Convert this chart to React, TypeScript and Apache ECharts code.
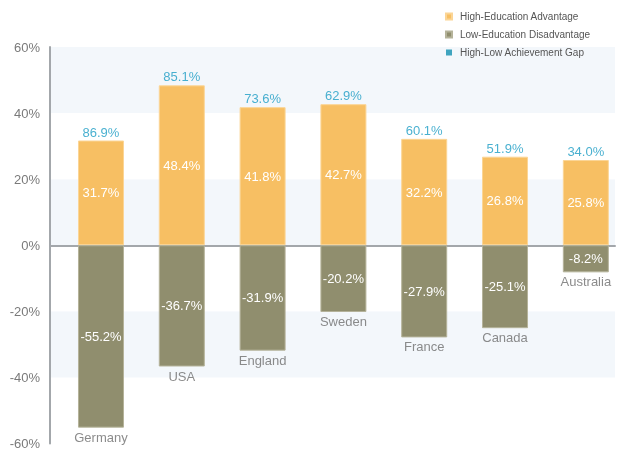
import React, { useEffect, useRef } from "react";
import * as echarts from "echarts";

const countries = ["Germany", "USA", "England", "Sweden", "France", "Canada", "Australia"];
const highAdvantage = [31.7, 48.4, 41.8, 42.7, 32.2, 26.8, 25.8];
const lowDisadvantage = [-55.2, -36.7, -31.9, -20.2, -27.9, -25.1, -8.2];
const achievementGap = [86.9, 85.1, 73.6, 62.9, 60.1, 51.9, 34.0];
const yTicks = [-60, -40, -20, 0, 20, 40, 60];

const FONT = "Liberation Sans, Arial, sans-serif";
const ORANGE = "#f7bf63";
const OLIVE = "#908e6e";
const TEAL = "#1b9cc4";
const TEAL_LEGEND = "#128fb0";

export default function App() {
  const ref = useRef<HTMLDivElement>(null);
  useEffect(() => {
    if (!ref.current) return;
    const chart = echarts.init(ref.current, undefined, { renderer: "svg" });
    chart.setOption({
      animation: false,
      textStyle: { fontFamily: FONT },
      legend: {
        orient: "vertical",
        left: 445,
        top: 10,
        padding: 0,
        itemWidth: 6,
        itemHeight: 6,
        itemGap: 5,
        icon: "rect",
        textStyle: { fontFamily: FONT, fontSize: 10, lineHeight: 13, color: "#555", padding: [0, 0, 0, 3] },
        data: ["High-Education Advantage", "Low-Education Disadvantage", "High-Low Achievement Gap"],
      },
      grid: { left: 50, right: 6, top: 47, bottom: 3, containLabel: false },
      xAxis: {
        type: "value",
        min: -0.631,
        max: 6.361,
        axisLine: { show: true, onZero: true, lineStyle: { color: "#a3a7ab", width: 2 } },
        axisTick: { show: false },
        axisLabel: { show: false },
        splitLine: { show: false },
      },
      yAxis: {
        type: "value",
        min: yTicks[0],
        max: yTicks[yTicks.length - 1],
        interval: 20,
        axisLine: { show: true, onZero: false, lineStyle: { color: "#a3a7ab", width: 2 } },
        axisTick: { show: false },
        splitLine: { show: false },
        splitArea: { show: true, areaStyle: { color: ["#ffffff", "#f3f7fb"] } },
        axisLabel: {
          formatter: (v: number) => `${v}%`,
          color: "#7a7a7a",
          fontSize: 13,
          fontFamily: FONT,
          margin: 10,
        },
      },
      series: [
        {
          name: "High-Education Advantage",
          type: "bar",
          stack: "s",
          barWidth: 46,
          data: highAdvantage.map((v, i) => [i, v]),
          itemStyle: { color: ORANGE, borderColor: "#fbd596", borderWidth: 1 },
          label: {
            show: true,
            position: "inside",
            color: "#ffffff",
            fontSize: 13,
            fontFamily: FONT,
            formatter: (p: any) => `${highAdvantage[p.dataIndex].toFixed(1)}%`,
          },
        },
        {
          name: "Low-Education Disadvantage",
          type: "bar",
          stack: "s",
          barWidth: 46,
          data: lowDisadvantage.map((v, i) => [i, v]),
          itemStyle: { color: OLIVE, borderColor: "#b5b39a", borderWidth: 1 },
          label: {
            show: true,
            position: "inside",
            color: "#ffffff",
            fontSize: 13,
            fontFamily: FONT,
            formatter: (p: any) => `${lowDisadvantage[p.dataIndex].toFixed(1)}%`,
          },
        },
        {
          name: "High-Low Achievement Gap",
          type: "scatter",
          symbolSize: 0,
          clip: false,
          data: highAdvantage.map((v, i) => [i, v]),
          itemStyle: { color: TEAL_LEGEND },
          label: {
            show: true,
            position: "top",
            distance: 2,
            color: TEAL,
            fontSize: 13,
            fontFamily: FONT,
            formatter: (p: any) => `${achievementGap[p.dataIndex].toFixed(1)}%`,
          },
          z: 5,
        },
        {
          name: "countries",
          type: "scatter",
          symbolSize: 0,
          clip: false,
          data: lowDisadvantage.map((v, i) => [i, v]),
          itemStyle: { color: "transparent" },
          label: {
            show: true,
            position: "bottom",
            distance: 3,
            color: "#6e6e6e",
            fontSize: 13,
            fontFamily: FONT,
            formatter: (p: any) => countries[p.dataIndex],
          },
          z: 5,
        },
      ],
    });
    return () => chart.dispose();
  }, []);
  return (
    <div
      ref={ref}
      style={{ position: "fixed", left: 0, top: 0, width: 621, height: 450 }}
    />
  );
}
